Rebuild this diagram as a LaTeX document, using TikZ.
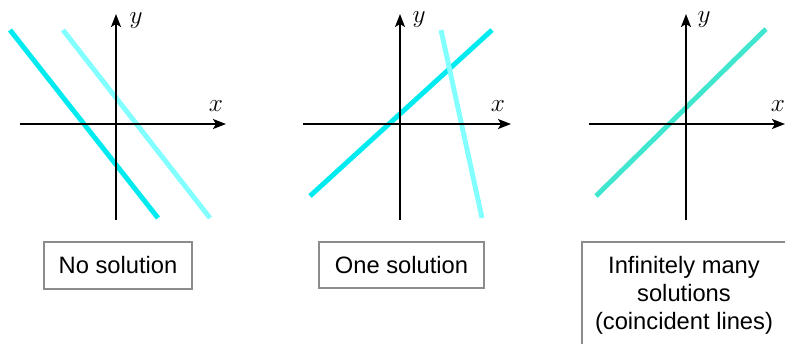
\documentclass[tikz,border=0pt]{standalone}
\usepackage{fontspec}
\setmainfont{Liberation Sans}
\usepackage{tikz}
\usetikzlibrary{arrows.meta}

\definecolor{cyanA}{RGB}{0,235,240}
\definecolor{cyanB}{RGB}{130,255,255}
\definecolor{turq}{RGB}{64,230,205}
\definecolor{boxgray}{RGB}{140,140,140}

\begin{document}
\begin{tikzpicture}[
  x=0.02cm, y=-0.02cm,
  axis/.style={-{Stealth[length=0.26cm, width=0.2cm, inset=0.06cm]}, line width=1.1pt, black},
  sol/.style={line width=2.8pt},
  lbl/.style={font=\fontsize{14}{16}\selectfont, inner sep=0pt},
  box/.style={draw=boxgray, line width=1.2pt, align=center, inner sep=2pt,
              font=\fontsize{13.5}{16}\selectfont}
]
\useasboundingbox (0,0) rectangle (785,343);

% Parallel lines
\draw[sol, cyanA] (10,30) -- (158,218);
\draw[sol, cyanB] (63,30) -- (210,218);
\draw[axis] (20,124) -- (226,124);
\draw[axis] (116,220) -- (116,14);
\node[lbl] (x1) at (216,106) {$x$};
\node[lbl] (y1) at (136,21) {$y$};
\node[box, minimum width=2.96cm, minimum height=0.94cm] (none) at (118,265.5) {No solution};

% Intersecting lines
\draw[sol, cyanA] (310,196) -- (492,30);
\draw[sol, cyanB] (441,30) -- (482,218);
\draw[axis] (303,124) -- (511,124);
\draw[axis] (400,220) -- (400,14);
\node[lbl] (x2) at (498,106) {$x$};
\node[lbl] (y2) at (419,20) {$y$};
\node[box, minimum width=3.3cm, minimum height=0.92cm] (one) at (401.5,265) {One solution};

% Coincident lines
\draw[sol, turq] (596,196) -- (766,29);
\draw[axis] (589,124) -- (785,124);
\draw[axis] (686,220) -- (686,14);
\node[lbl] (x3) at (778,106) {$x$};
\node[lbl] (y3) at (704,20) {$y$};
\node[box, minimum width=4.08cm, minimum height=2.12cm] (many) at (684,295)
  {Infinitely many\\solutions\\(coincident lines)};

\end{tikzpicture}
\end{document}
